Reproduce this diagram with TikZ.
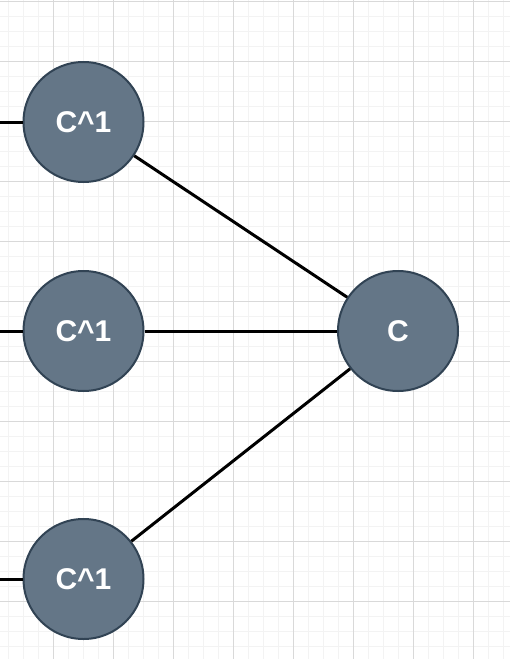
\documentclass[tikz,border=0pt]{standalone}
\usepackage{fontspec}
\setmainfont{Liberation Sans}
\begin{document}
\begin{tikzpicture}[x=1pt,y=-1pt,
  unit/.style={circle,draw=nodeborder,line width=2pt,fill=nodefill,minimum size=120pt,inner sep=0pt,
    text=white,font=\fontsize{30}{30}\selectfont\bfseries},
  wire/.style={line width=3pt,black},
  minorgrid/.style={draw=gridminor,line width=1pt},
  majorgrid/.style={draw=gridmajor,line width=1pt}]
\definecolor{nodefill}{HTML}{647687}
\definecolor{nodeborder}{HTML}{314354}
\definecolor{gridminor}{HTML}{F3F3F3}
\definecolor{gridmajor}{HTML}{D9D9D9}
\useasboundingbox[fill=white] (0,0) rectangle (510,659);
% grid
\foreach \x in {8,23,...,510} \draw[minorgrid] (\x,0) -- (\x,659);
\foreach \y in {1,16,...,659} \draw[minorgrid] (0,\y) -- (510,\y);
\foreach \x in {53,113,...,510} \draw[majorgrid] (\x,0) -- (\x,659);
\foreach \y in {1,61,...,659} \draw[majorgrid] (0,\y) -- (510,\y);
% nodes
\node[unit] (a) at (83.5,122) {C\^{}1};
\node[unit] (b) at (83.5,331) {C\^{}1};
\node[unit] (d) at (83.5,579) {C\^{}1};
\node[unit] (c) at (398,331) {C};
\coordinate (ain) at (0,122);
\coordinate (bin) at (0,331);
\coordinate (din) at (0,579);
% connectors
\draw[wire] (ain) -- (a);
\draw[wire] (bin) -- (b);
\draw[wire] (din) -- (d);
\draw[wire] (a) -- (c);
\draw[wire] (b) -- (c);
\draw[wire] (d) -- (c);
\end{tikzpicture}
\end{document}
